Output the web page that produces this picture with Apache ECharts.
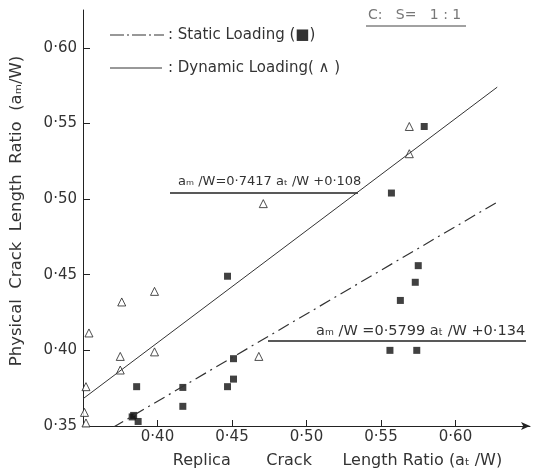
<!DOCTYPE html>
<html><head><meta charset="utf-8">
<script src="https://cdn.jsdelivr.net/npm/echarts@6/dist/echarts.min.js"></script>
<style>html,body{margin:0;background:#fff}#c{width:536px;height:474px}</style>
</head><body><div id="c"></div>
<script>
// tick labels
const xTicks = [0.40, 0.45, 0.50, 0.55, 0.60];
const yTicks = [0.35, 0.40, 0.45, 0.50, 0.55, 0.60];
// Dynamic loading (open triangles)
const dynamicX = [0.354, 0.352, 0.351, 0.352, 0.376, 0.375, 0.375, 0.398, 0.398, 0.468, 0.471, 0.569, 0.569];
const dynamicY = [0.4115, 0.376, 0.359, 0.352, 0.432, 0.396, 0.387, 0.439, 0.399, 0.396, 0.497, 0.530, 0.548];
// Static loading (filled squares)
const staticX = [0.447, 0.386, 0.384, 0.383, 0.387, 0.417, 0.417, 0.451, 0.451, 0.447, 0.575, 0.573, 0.563, 0.556, 0.574, 0.579, 0.557];
const staticY = [0.449, 0.376, 0.357, 0.356, 0.353, 0.3755, 0.363, 0.3945, 0.381, 0.376, 0.456, 0.445, 0.433, 0.400, 0.400, 0.548, 0.504];
// fitted lines (end points)
const dynamicFitX = [0.35, 0.628];
const dynamicFitY = [0.368, 0.574];
const staticFitX = [0.370, 0.628];
const staticFitY = [0.349, 0.498];

const zip = (a, b) => a.map((v, i) => [v, b[i]]);
const fmt = v => v.toFixed(2).replace('.', '·');
const FONT = 'DejaVu Sans';
const TXT = '#333';

const chart = echarts.init(document.getElementById('c'));
chart.setOption({
  animation: false,
  textStyle: { fontFamily: FONT },
  grid: { left: 77, right: 6, top: 10, bottom: 44 },
  xAxis: {
    type: 'value', min: 0.35, max: 0.65, interval: 0.05,
    axisLine: { lineStyle: { color: '#222', width: 1 }, symbol: ['none', 'arrow'], symbolSize: [6, 9] },
    axisTick: { inside: true, length: 6, customValues: xTicks, lineStyle: { color: '#222' } },
    axisLabel: { customValues: xTicks, formatter: fmt, margin: 4, fontSize: 15, color: TXT },
    splitLine: { show: false },
    name: 'Replica       Crack      Length Ratio (aₜ /W)', nameLocation: 'middle', nameGap: 27,
    nameTextStyle: { fontSize: 16, color: TXT, padding: [0, 0, 0, 62] }
  },
  yAxis: {
    type: 'value', min: 0.35, max: 0.625, interval: 0.05,
    axisLine: { lineStyle: { color: '#222', width: 1 } },
    axisTick: { inside: true, length: 7, customValues: yTicks, lineStyle: { color: '#222' } },
    axisLabel: { customValues: yTicks, formatter: fmt, margin: 6, fontSize: 15, color: TXT },
    splitLine: { show: false },
    name: 'Physical  Crack  Length  Ratio  (aₘ/W)', nameLocation: 'middle', nameGap: 58,
    nameTextStyle: { fontSize: 16.5, color: TXT, padding: [0, 0, 0, 14] }
  },
  series: [
    { type: 'line', data: zip(dynamicFitX, dynamicFitY), symbol: 'none', silent: true,
      lineStyle: { color: '#333', width: 1 } },
    { type: 'line', data: zip(staticFitX, staticFitY), symbol: 'none', silent: true,
      lineStyle: { color: '#333', width: 1.2, type: [12, 5, 2, 5] } },
    { type: 'scatter', data: zip(staticX, staticY), symbol: 'rect', symbolSize: 7,
      itemStyle: { color: '#111' } },
    { type: 'scatter', data: zip(dynamicX, dynamicY), symbol: 'triangle', symbolSize: 8,
      itemStyle: { color: '#fff', borderColor: '#222', borderWidth: 1 } }
  ],
  graphic: [
    // legend
    { type: 'line', shape: { x1: 110, y1: 35, x2: 164, y2: 35 }, style: { stroke: '#333', lineWidth: 1.2, lineDash: [14, 3, 2, 3] } },
    { type: 'text', style: { x: 168, y: 35, text: ': Static Loading (■)', font: '15px ' + FONT, fill: TXT, verticalAlign: 'middle' } },
    { type: 'line', shape: { x1: 110, y1: 68, x2: 162, y2: 68 }, style: { stroke: '#333', lineWidth: 1 } },
    { type: 'text', style: { x: 168, y: 68, text: ': Dynamic Loading( ∧ )', font: '15px ' + FONT, fill: TXT, verticalAlign: 'middle' } },
    // title
    { type: 'text', style: { x: 368, y: 15, text: 'C:   S=   1 : 1', font: '14px ' + FONT, fill: '#777', verticalAlign: 'middle' } },
    { type: 'line', shape: { x1: 366, y1: 26, x2: 466, y2: 26 }, style: { stroke: '#444', lineWidth: 1 } },
    // equations
    { type: 'text', style: { x: 178, y: 182, text: 'aₘ /W=0·7417 aₜ /W +0·108', font: '13px ' + FONT, fill: TXT, verticalAlign: 'middle' } },
    { type: 'line', shape: { x1: 170, y1: 193, x2: 358, y2: 193 }, style: { stroke: '#222', lineWidth: 1.5 } },
    { type: 'text', style: { x: 316, y: 331, text: 'aₘ /W =0·5799 aₜ /W +0·134', font: '14.5px ' + FONT, fill: TXT, verticalAlign: 'middle' } },
    { type: 'line', shape: { x1: 268, y1: 341, x2: 526, y2: 341 }, style: { stroke: '#222', lineWidth: 1.5 } }
  ]
});
</script></body></html>
